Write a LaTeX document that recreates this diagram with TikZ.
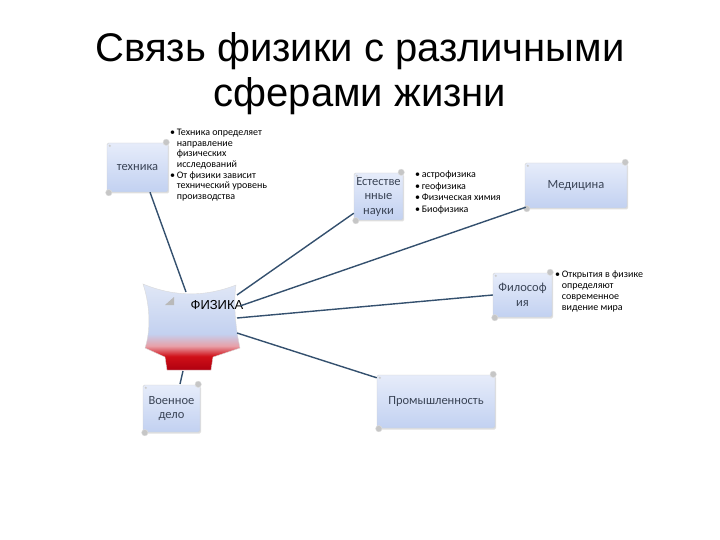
\documentclass[tikz,border=0pt]{standalone}
\usepackage{fontspec}
\setmainfont{Liberation Sans}
\newfontfamily\boxfont{Carlito}
\usetikzlibrary{shadows}
\definecolor{boxtop}{HTML}{E6ECFA}
\definecolor{boxbot}{HTML}{C2D1F1}
\definecolor{boxtext}{HTML}{3A4456}
\definecolor{linec}{HTML}{34506E}
\definecolor{physA}{HTML}{E0E7F6}
\definecolor{physB}{HTML}{C3D1F0}
\definecolor{physC}{HTML}{E8A0A8}
\definecolor{physD}{HTML}{D01018}
\definecolor{physE}{HTML}{B00010}
\pgfdeclareverticalshading{physsh}{100bp}{color(0bp)=(physE); color(25bp)=(physE); color(33bp)=(physD); color(39bp)=(physC); color(46bp)=(physB); color(75bp)=(physA); color(100bp)=(physA)}
\tikzset{
  scroll/.style={draw=gray!35, top color=boxtop, bottom color=boxbot, rounded corners=1.5pt,
    drop shadow={opacity=0.25, shadow xshift=1.2pt, shadow yshift=-1.5pt},
    text=boxtext, font=\boxfont\fontsize{12.5}{14.5}\selectfont, align=center, inner sep=1pt},
  curl/.style={fill=gray!45, draw=gray!25},
  conn/.style={draw=linec, line width=1.4pt},
  blist/.style={anchor=north west, align=left, inner sep=0pt, font=\boxfont\fontsize{10}{10.6}\selectfont},
}
\newcommand\scrollcurls[1]{%
  \fill[curl] ([xshift=-2pt,yshift=0.5pt]#1.north east) circle (3.2pt);
  \fill[curl] ([xshift=2pt,yshift=-0.5pt]#1.south west) circle (3.2pt);
  \fill[gray!40] ([xshift=3pt,yshift=-3pt]#1.north west) circle (1.2pt);}
\newcommand\bul{\textbullet\,}
\newcommand\ind{\hphantom{\textbullet\,}}
\begin{document}
\begin{tikzpicture}[x=1pt,y=-1pt]
\useasboundingbox (0,0) rectangle (720,540);
\node[font=\fontsize{40}{45}\selectfont, align=center] (title) at (360,74) {Связь физики с различными\\сферами жизни};

% boxes
\node[scroll, minimum width=61pt, minimum height=49pt] (tech) at (137.5,167.5) {техника};
\node[scroll, minimum width=49pt, minimum height=47pt] (nat) at (378.5,196.5) {Естестве\\нные\\науки};
\node[scroll, minimum width=102pt, minimum height=45pt] (med) at (576,185.5) {Медицина};
\node[scroll, minimum width=59pt, minimum height=44pt] (phil) at (522.5,295) {Философ\\ия};
\node[scroll, minimum width=57pt, minimum height=47pt] (war) at (171.5,408.5) {Военное\\дело};
\node[scroll, minimum width=118pt, minimum height=53pt] (indus) at (436,401.5) {Промышленность};
\scrollcurls{tech}\scrollcurls{nat}\scrollcurls{med}\scrollcurls{phil}\scrollcurls{war}\scrollcurls{indus}

% lists
\node[blist] (techlist) at (170,129) {\bul Техника определяет\\\ind направление\\\ind физических\\\ind исследований\\\bul От физики зависит\\\ind технический уровень\\\ind производства};
\node[blist, font=\boxfont\fontsize{10}{11.5}\selectfont] (natlist) at (415,171) {\bul астрофизика\\\bul геофизика\\\bul Физическая химия\\\bul Биофизика};
\node[blist, font=\boxfont\fontsize{10}{11}\selectfont] (phillist) at (555,271) {\bul Открытия в физике\\\ind определяют\\\ind современное\\\ind видение мира};

% physics shape
\shade[shading=physsh, draw=gray!30] (143,284) .. controls (175,297) and (205,297) .. (236,285) .. controls (233,305) and (236,330) .. (240,348) -- (213,357) -- (211,370) -- (167,370) -- (165,357) -- (145,348) .. controls (151,330) and (150,305) .. cycle;
\fill[gray!55] (165,305) -- (174,297) -- (174,305) -- cycle;
\node[font=\fontsize{13}{15}\selectfont] (phys) at (217,305) {ФИЗИКА};

\coordinate (p1) at (186,292);
\coordinate (p2) at (237,295);
\coordinate (p3) at (240,306);
\coordinate (p4) at (237,318);
\coordinate (p5) at (237,333);
\coordinate (p6) at (183,371);
\coordinate (w1) at (180,384);

\draw[conn] ([xshift=12.5pt]tech.south) -- (p1);
\draw[conn] ([yshift=7pt]nat.south west) -- (p2);
\draw[conn] ([xshift=1pt,yshift=1pt]med.south west) -- (p3);
\draw[conn] (phil.west) -- (p4);
\draw[conn] ([yshift=-3pt]indus.north west) -- (p5);
\draw[conn] (p6) -- (w1);
\end{tikzpicture}
\end{document}
